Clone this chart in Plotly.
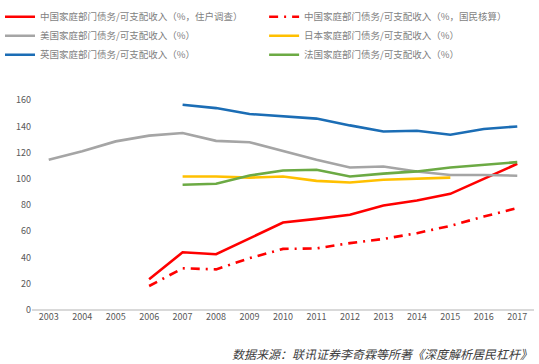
import plotly.graph_objects as go

years = list(range(2003, 2018))

cn_survey_years = list(range(2006, 2018))
cn_survey = [23.4, 44.0, 42.5, 54.8, 66.7, 69.5, 72.6, 79.7, 83.5, 88.6, 100.3, 111.5]

cn_national_years = list(range(2006, 2018))
cn_national = [18.3, 31.8, 31.0, 39.5, 46.6, 47.0, 51.0, 54.2, 58.6, 64.2, 71.3, 77.7]

us_years = list(range(2003, 2018))
us = [114.6, 121.0, 128.6, 133.0, 135.0, 129.0, 128.0, 121.5, 114.6, 108.7, 109.5, 105.7, 103.0, 103.0, 102.4]

jp_years = list(range(2007, 2016))
jp = [101.8, 101.8, 101.0, 101.8, 98.5, 97.3, 99.3, 100.0, 101.0]

uk_years = list(range(2007, 2018))
uk = [156.6, 154.0, 149.5, 147.7, 146.0, 140.8, 136.2, 136.7, 133.7, 138.0, 140.0]

fr_years = list(range(2007, 2018))
fr = [95.5, 96.3, 102.6, 106.4, 107.0, 101.8, 104.0, 105.7, 108.7, 110.8, 112.8]

names = [
    "中国家庭部门债务/可支配收入（%，住户调查）",
    "中国家庭部门债务/可支配收入（%，国民核算）",
    "美国家庭部门债务/可支配收入（%）",
    "日本家庭部门债务/可支配收入（%）",
    "英国家庭部门债务/可支配收入（%）",
    "法国家庭部门债务/可支配收入（%）",
]

fig = go.Figure()
series = [
    (cn_survey_years, cn_survey, names[0], "#FF0000", "solid", "legend"),
    (cn_national_years, cn_national, names[1], "#FF0000", "9px,6px,2px,6px", "legend2"),
    (us_years, us, names[2], "#A5A5A5", "solid", "legend"),
    (jp_years, jp, names[3], "#FFC000", "solid", "legend2"),
    (uk_years, uk, names[4], "#1B6DB5", "solid", "legend"),
    (fr_years, fr, names[5], "#6CAA44", "solid", "legend2"),
]
for xs, ys, nm, col, dash, lg in series:
    fig.add_trace(go.Scatter(x=xs, y=ys, name=nm, mode="lines", legend=lg,
                             line=dict(color=col, width=2.6, dash=dash)))

legend_common = dict(orientation="v", xref="container", yref="container",
                     xanchor="left", yanchor="top", tracegroupgap=0,
                     bgcolor="rgba(0,0,0,0)",
                     font=dict(size=9.5, color="#7F7F7F"), itemwidth=30)

fig.update_layout(
    width=539, height=364,
    margin=dict(l=32, r=5, t=74, b=54, autoexpand=False),
    paper_bgcolor="white", plot_bgcolor="white",
    font=dict(family="Noto Sans CJK SC, sans-serif", size=9, color="#595959"),
    showlegend=True,
    legend=dict(x=0.0, y=0.994, **legend_common),
    legend2=dict(x=0.49, y=0.994, **legend_common),
    xaxis=dict(range=[2002.5, 2017.5], tickvals=years, ticktext=[str(y) for y in years],
               showgrid=False, zeroline=False, showline=False, ticks="",
               tickfont=dict(size=9, color="#595959")),
    yaxis=dict(range=[0, 180], tickvals=list(range(0, 161, 20)), showgrid=False,
               zeroline=True, zerolinecolor="#D9D9D9", zerolinewidth=1.5,
               showline=False, ticks="", tickfont=dict(size=9, color="#595959")),
)
fig.add_annotation(text="<i>数据来源：联讯证券李奇霖等所著《深度解析居民杠杆》</i>",
                   x=(230 - 32) / (539 - 37), y=-(353 - 310) / (310 - 74),
                   xref="paper", yref="paper", xanchor="left", yanchor="middle",
                   showarrow=False, font=dict(size=12, color="#404040"))

fig.write_html("out.html", config={"displayModeBar": False},
               post_script="document.body.style.margin='0';document.body.style.overflow='hidden';")
